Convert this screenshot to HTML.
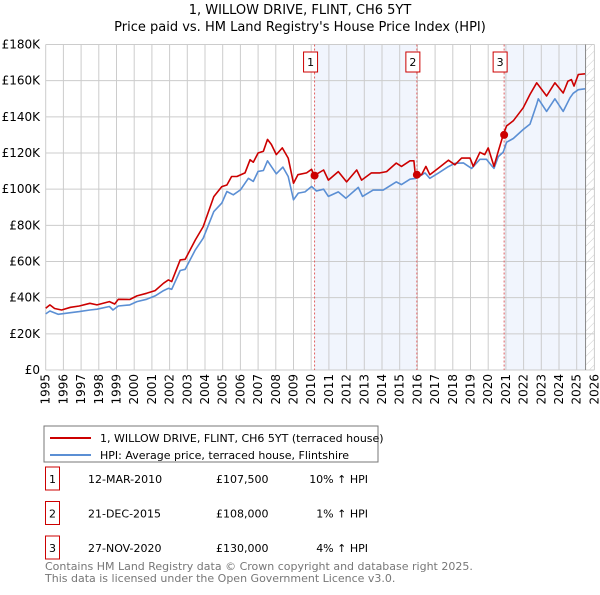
<!DOCTYPE html>
<html><head><meta charset="utf-8"><style>
body{margin:0;background:#fff;width:600px;height:590px;overflow:hidden;font-family:"Liberation Sans","DejaVu Sans",sans-serif}
svg text{font-family:"DejaVu Sans","Liberation Sans",sans-serif}
</style></head><body>
<svg id="c" width="600" height="590">
<defs><pattern id="hatch" width="6" height="6" patternUnits="userSpaceOnUse" patternTransform="rotate(45)"><line x1="0" y1="0" x2="0" y2="6" stroke="#ccc" stroke-width="1"/></pattern></defs>
<text x="300" y="14" text-anchor="middle" font-size="13">1, WILLOW DRIVE, FLINT, CH6 5YT</text>
<text x="300" y="31" text-anchor="middle" font-size="13">Price paid vs. HM Land Registry's House Price Index (HPI)</text>
<g id="plot"></g>
<rect x="44" y="426" width="334" height="36" fill="#fff" stroke="#777"/>
<line x1="50" y1="438" x2="91" y2="438" stroke="#cc0000" stroke-width="2"/>
<text x="100" y="442" font-size="11">1, WILLOW DRIVE, FLINT, CH6 5YT (terraced house)</text>
<line x1="50" y1="455" x2="91" y2="455" stroke="#5b8fd4" stroke-width="2"/>
<text x="100" y="459" font-size="11">HPI: Average price, terraced house, Flintshire</text>
<g font-size="11" id="table"></g>
<text x="45" y="570" font-size="11" fill="#777">Contains HM Land Registry data © Crown copyright and database right 2025.</text>
<text x="45" y="582" font-size="11" fill="#777">This data is licensed under the Open Government Licence v3.0.</text>
</svg>
<script>
const ns="http://www.w3.org/2000/svg";
const yTicks=[0,20,40,60,80,100,120,140,160,180];
const yTickLabels=["£0","£20K","£40K","£60K","£80K","£100K","£120K","£140K","£160K","£180K"];
const xYears=[1995,1996,1997,1998,1999,2000,2001,2002,2003,2004,2005,2006,2007,2008,2009,2010,2011,2012,2013,2014,2015,2016,2017,2018,2019,2020,2021,2022,2023,2024,2025,2026];
const hpiYears=[1995,1995.24,1995.7,1996.4,1996.9,1997.5,1997.9,1998.6,1998.8,1999.1,1999.75,2000.15,2000.7,2001.18,2001.66,2001.93,2002.12,2002.6,2002.88,2003.45,2003.9,2004.5,2004.95,2005.24,2005.6,2006.0,2006.45,2006.73,2007.0,2007.3,2007.53,2008.03,2008.4,2008.7,2009.0,2009.27,2009.65,2010.02,2010.3,2010.7,2010.97,2011.53,2011.96,2012.66,2012.9,2013.5,2014.07,2014.8,2015.1,2015.58,2015.92,2016.43,2016.7,2017.2,2017.75,2018.12,2018.6,2019.06,2019.53,2019.9,2020.2,2020.33,2020.57,2020.85,2021.04,2021.42,2021.98,2022.36,2022.74,2022.83,2023.3,2023.77,2024.24,2024.62,2024.8,2025.09,2025.47];
const hpiValues=[31,32.6,30.8,31.7,32.3,33.2,33.6,35.1,33.2,35.4,36,37.8,39.1,41,43.9,45.2,44.6,55,55.7,66.4,72.9,87.6,92.3,98.7,96.9,99.6,106,104.3,109.8,110.3,115.7,108.5,112.2,107,94.1,97.8,98.5,101.5,99,100,96,98.5,95,101,96,99.5,99.5,104,102.5,105.5,106,109,106,109,112.5,114.3,114.5,111.5,116.5,116.5,113,111.5,118,120.5,126,128,133,136,147,150,143,150,143,150.5,153,155,155.5];
const ppYears=[1995,1995.24,1995.5,1995.9,1996.4,1996.9,1997.5,1997.9,1998.6,1998.9,1999.1,1999.75,2000.15,2000.7,2001.18,2001.66,2001.93,2002.12,2002.6,2002.88,2003.45,2003.9,2004.5,2004.95,2005.24,2005.5,2005.8,2006.26,2006.55,2006.73,2007.0,2007.3,2007.53,2007.75,2008.03,2008.37,2008.7,2009.0,2009.25,2009.74,2010.02,2010.17,2010.7,2010.97,2011.53,2012.0,2012.57,2012.85,2013.4,2013.88,2014.26,2014.8,2015.1,2015.58,2015.8,2015.88,2016.24,2016.48,2016.7,2017.2,2017.75,2018.12,2018.5,2018.97,2019.16,2019.53,2019.8,2020.0,2020.33,2020.57,2020.85,2021.04,2021.42,2021.98,2022.36,2022.74,2023.3,2023.77,2024.24,2024.5,2024.7,2024.85,2025.09,2025.47];
const ppValues=[34.1,36,34,33.2,34.7,35.4,36.9,36,37.8,36.5,39.1,39,41,42.4,43.9,48,49.8,48.9,60.9,61.2,71.9,79.3,95.9,101.4,102.3,107,107,109,116.3,114.9,120,121,127.5,124.7,119.1,122.8,117.2,103.3,108,109,111,107.5,110.6,105,109.7,104,110.6,105,109,109,109.7,114.4,112.6,115.7,115.7,108,108,112.6,108,111.7,116,113.5,117.2,117.2,112.6,120.4,119.1,122.8,112.6,121,130,135,137.8,145,152.4,158.8,151.5,158.8,153.2,159.7,160.6,157,163.4,163.8];
const saleYears=[2010.19,2015.97,2020.9];
const saleValues=[107.5,108,130];
const saleDates=["12-MAR-2010","21-DEC-2015","27-NOV-2020"];
const salePrices=["£107,500","£108,000","£130,000"];
const saleHpi=["10% ↑ HPI","1% ↑ HPI","4% ↑ HPI"];
const X0=45.7,X1=594.4,Y0=370,Y1=44.5;
const xs=y=>X0+(y-1995)*(X1-X0)/31;
const ys=v=>Y0-v*(Y0-Y1)/180;
const plot=document.getElementById('plot');
function mk(tag,attrs,parent){const e=document.createElementNS(ns,tag);for(const k in attrs)e.setAttribute(k,attrs[k]);(parent||plot).appendChild(e);return e;}
// shaded regions
let r=mk('rect',{x:xs(saleYears[0]),y:Y1,width:xs(saleYears[1])-xs(saleYears[0]),height:Y0-Y1,fill:'#eef2fc',opacity:0.8});


r=mk('rect',{x:xs(saleYears[2]),y:Y1,width:xs(2025.5)-xs(saleYears[2]),height:Y0-Y1,fill:'#eef2fc',opacity:0.8});


r=mk('rect',{x:xs(2025.5),y:Y1,width:X1-xs(2025.5),height:Y0-Y1,fill:'url(#hatch)'});


// grid
yTicks.forEach((t,i)=>{
 const l=mk('line',{x1:X0,x2:X1,y1:ys(t),y2:ys(t),stroke:'#ccc'});
 
 
 const tx=mk('text',{x:40,y:ys(t)+4,'text-anchor':'end','font-size':12});
 
 
 tx.textContent=yTickLabels[i];
});
xYears.forEach(y=>{
 const l=mk('line',{x1:xs(y),x2:xs(y),y1:Y1,y2:Y0,stroke:'#ccc'});
 
 
 const tx=mk('text',{x:0,y:0,'font-size':12,'text-anchor':'end',transform:`translate(${xs(y)+4},374) rotate(-90)`});
 
 
 tx.textContent=y;
});
let b=mk('line',{x1:xs(2025.5),x2:xs(2025.5),y1:Y1,y2:Y0,stroke:'#888'});


saleYears.forEach((y,i)=>{
 const l=mk('line',{x1:xs(y),x2:xs(y),y1:Y1,y2:Y0,stroke:'#e06060','stroke-dasharray':'2,2','stroke-width':1});
 
 
 const bx=mk('rect',{x:xs(y)-11,y:52,width:14,height:20,fill:'#fff',stroke:'#cc0000'});
 
 
 const t=mk('text',{x:xs(y)-4,y:66,'text-anchor':'middle','font-size':11});
 
 
 t.textContent=i+1;
});
function line(xa,va,color,name){
 const p=mk('polyline',{points:xa.map((x,i)=>xs(x).toFixed(1)+','+ys(va[i]).toFixed(1)).join(' '),fill:'none',stroke:color,'stroke-width':1.6,'stroke-linejoin':'round'});
 
 
}
line(hpiYears,hpiValues,'#5b8fd4','hpi-line');
line(ppYears,ppValues,'#cc0000','price-paid-line');
saleYears.forEach((y,i)=>{
 const c=mk('circle',{cx:xs(y),cy:ys(saleValues[i]),r:4,fill:'#cc0000'});
 
 
});
const tb=document.getElementById('table');
saleDates.forEach((d,i)=>{
 const yy=481+i*34.5;
 const bx=mk('rect',{x:45.5,y:yy-14,width:14,height:23,fill:'#fff',stroke:'#cc0000'},tb);
 
 
 let t=mk('text',{x:52.5,y:yy+2,'text-anchor':'middle'},tb);
 
 
 t.textContent=i+1;
 t=mk('text',{x:88,y:yy+2},tb);
 
 
 t.textContent=d;
 t=mk('text',{x:216,y:yy+2},tb);
 
 
 t.textContent=salePrices[i];
 t=mk('text',{x:368,y:yy+2,'text-anchor':'end'},tb);
 
 
 t.textContent=saleHpi[i];
});
</script>
</body></html>
